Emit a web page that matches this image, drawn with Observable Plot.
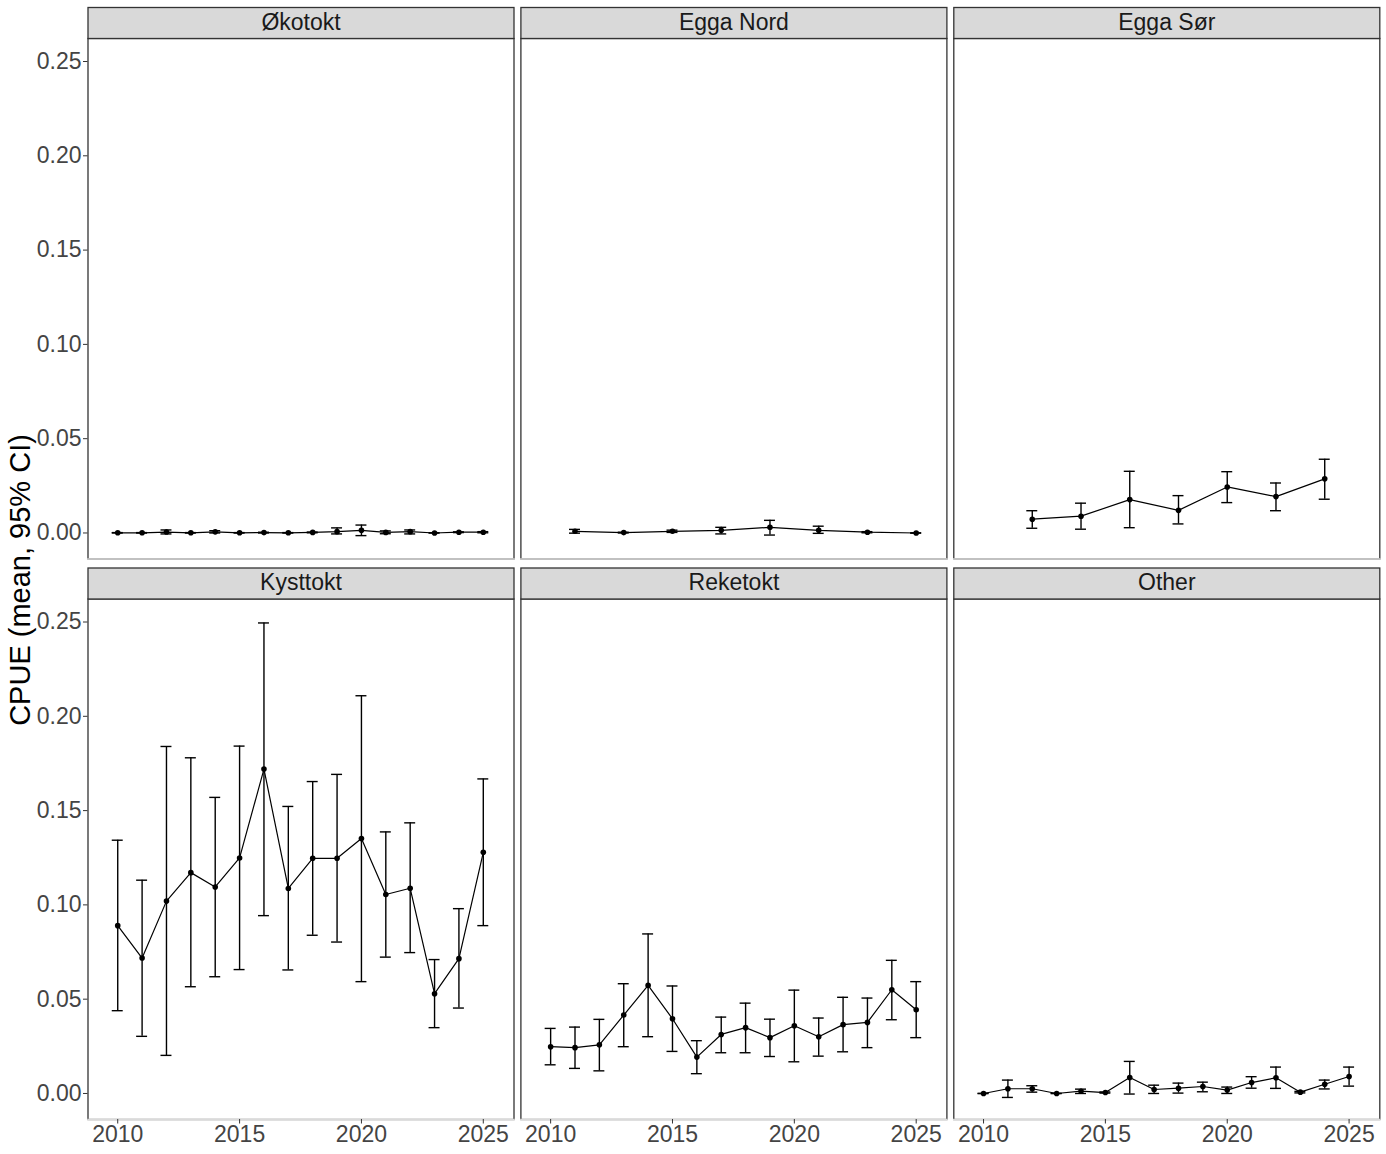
<!DOCTYPE html>
<html>
<head>
<meta charset="utf-8">
<script src="https://cdn.jsdelivr.net/npm/d3@7"></script>
<script src="https://cdn.jsdelivr.net/npm/@observablehq/plot@0.6"></script>
<style>
  html, body { margin: 0; padding: 0; background: #fff; }
  #wrap { position: relative; width: 1386px; height: 1154px; }
  #ylab { position: absolute; left: 20px; top: 580px; transform: translate(-50%, -50%) rotate(-90deg);
          font-family: 'Liberation Sans', Arial, sans-serif; font-size: 29px; color: #000; white-space: nowrap; }
</style>
</head>
<body>
<div id="wrap"><div id="ylab">CPUE (mean, 95% CI)</div></div>
<script>
// ---- Data ----
const panelNames = ["Økotokt", "Egga Nord", "Egga Sør", "Kysttokt", "Reketokt", "Other"];
const xTicks = [2010, 2015, 2020, 2025];
const yTicks = [0, 0.05, 0.10, 0.15, 0.20, 0.25];

const allYears = [2010,2011,2012,2013,2014,2015,2016,2017,2018,2019,2020,2021,2022,2023,2024,2025];

const okoYears = allYears;
const okoMean = [0.0001,0.0001,0.0005,0.0001,0.0006,0.0001,0.0002,0.0001,0.0003,0.0007,0.0014,0.0003,0.0007,0.0000,0.0004,0.0004];
const okoLo   = [0.0000,0.0000,-0.0005,0.0000,0.0000,0.0000,0.0000,0.0000,0.0001,-0.0005,-0.0014,-0.0004,-0.0005,0.0000,0.0002,0.0001];
const okoHi   = [0.0002,0.0002,0.0016,0.0002,0.0012,0.0002,0.0004,0.0002,0.0005,0.0027,0.0042,0.0011,0.0016,0.0001,0.0006,0.0007];

const nordYears = [2011,2013,2015,2017,2019,2021,2023,2025];
const nordMean = [0.0009,0.0002,0.0009,0.0014,0.0030,0.0014,0.0004,0.0000];
const nordLo   = [-0.0001,0.0000,0.0003,-0.0005,-0.0011,-0.0002,0.0001,-0.0001];
const nordHi   = [0.0019,0.0004,0.0015,0.0030,0.0067,0.0036,0.0007,0.0001];

const sorYears = [2012,2014,2016,2018,2020,2022,2024];
const sorMean = [0.0073,0.0089,0.0177,0.0120,0.0244,0.0193,0.0287];
const sorLo   = [0.0025,0.0020,0.0028,0.0048,0.0161,0.0118,0.0179];
const sorHi   = [0.0118,0.0158,0.0327,0.0198,0.0325,0.0265,0.0391];

const kystYears = allYears;
const kystMean = [0.0890,0.0718,0.1020,0.1171,0.1095,0.1249,0.1720,0.1087,0.1247,0.1247,0.1352,0.1055,0.1088,0.0529,0.0715,0.1279];
const kystLo   = [0.0439,0.0303,0.0202,0.0566,0.0619,0.0657,0.0943,0.0655,0.0839,0.0803,0.0593,0.0723,0.0747,0.0349,0.0453,0.0890];
const kystHi   = [0.1343,0.1131,0.1840,0.1780,0.1570,0.1842,0.2495,0.1522,0.1654,0.1692,0.2109,0.1387,0.1435,0.0710,0.0980,0.1668];

const rekeYears = allYears;
const rekeMean = [0.0248,0.0243,0.0258,0.0416,0.0573,0.0396,0.0193,0.0313,0.0349,0.0296,0.0359,0.0301,0.0365,0.0377,0.0550,0.0444];
const rekeLo   = [0.0152,0.0133,0.0120,0.0248,0.0301,0.0223,0.0105,0.0216,0.0216,0.0196,0.0168,0.0198,0.0221,0.0243,0.0391,0.0296];
const rekeHi   = [0.0345,0.0352,0.0393,0.0582,0.0846,0.0570,0.0280,0.0405,0.0479,0.0394,0.0548,0.0400,0.0510,0.0506,0.0706,0.0593];

const otherYears = allYears;
const otherMean = [0.0000,0.0025,0.0025,0.0000,0.0012,0.0005,0.0085,0.0021,0.0028,0.0037,0.0018,0.0058,0.0083,0.0007,0.0049,0.0090];
const otherLo   = [0.0000,-0.0021,0.0007,0.0000,0.0000,0.0002,-0.0003,0.0000,0.0002,0.0009,0.0000,0.0028,0.0027,0.0003,0.0024,0.0039];
const otherHi   = [0.0000,0.0071,0.0041,0.0000,0.0023,0.0008,0.0170,0.0044,0.0055,0.0060,0.0034,0.0089,0.0140,0.0011,0.0071,0.0140];

// ---- Build table ----
const series = [
  [okoYears, okoMean, okoLo, okoHi],
  [nordYears, nordMean, nordLo, nordHi],
  [sorYears, sorMean, sorLo, sorHi],
  [kystYears, kystMean, kystLo, kystHi],
  [rekeYears, rekeMean, rekeLo, rekeHi],
  [otherYears, otherMean, otherLo, otherHi]
];
const data = [];
series.forEach(([yrs, m, lo, hi], i) => {
  yrs.forEach((yr, j) => data.push({panel: panelNames[i], col: i % 3, row: Math.floor(i / 3), year: yr, mean: m[j], lo: lo[j], hi: hi[j]}));
});
const strips = panelNames.map((name, i) => ({name, col: i % 3, row: Math.floor(i / 3)}));

// ---- Layout constants ----
const W = 1386, H = 1154;
const mTop = 38, mBottom = 35, mLeft = 87.5, mRight = 6.7;
const rowGap = 40, colGap = 6.9;
const fyBand = (H - mTop - mBottom - rowGap) / 2;
const fxBand = (W - mLeft - mRight - 2 * colGap) / 3;
const capHalf = 0.225;
const stripH = 31;
const fc = {fx: "col", fy: "row"};

const chart = Plot.plot({
  width: W, height: H,
  marginTop: mTop, marginBottom: mBottom, marginLeft: mLeft, marginRight: mRight,
  style: {background: "#fff", fontFamily: "'Liberation Sans', Arial, sans-serif", fontSize: "23px", overflow: "visible"},
  x: {domain: [2008.78, 2026.26]},
  y: {domain: [-0.0138, 0.2622]},
  fx: {domain: [0, 1, 2], paddingInner: colGap / (fxBand + colGap), paddingOuter: 0, round: false, axis: null},
  fy: {domain: [0, 1], paddingInner: rowGap / (fyBand + rowGap), paddingOuter: 0, round: false, axis: null},
  marks: [
    Plot.frame({stroke: "#333", strokeWidth: 1.3}),
    Plot.frame({anchor: "bottom", stroke: "#dadada", strokeWidth: 1.6}),
    Plot.frame({fill: "#d9d9d9", stroke: "#333", strokeWidth: 1.3, insetTop: -stripH, insetBottom: fyBand}),
    Plot.text(strips, {...fc, text: "name", frameAnchor: "top", lineAnchor: "middle", dy: -16, fontSize: 23, fill: "#1a1a1a"}),
    Plot.axisX({ticks: xTicks, tickFormat: "d", tickSize: 4.5, tickPadding: 1.5, fontSize: 23, stroke: "#333", fill: "#444", label: null}),
    Plot.axisY({ticks: yTicks, tickFormat: ".2f", tickSize: 4.5, tickPadding: 2, fontSize: 23, stroke: "#333", fill: "#444", label: null}),
    Plot.ruleX(data, {...fc, x: "year", y1: "lo", y2: "hi", stroke: "#000", strokeWidth: 1.4}),
    Plot.ruleY(data, {...fc, y: "lo", x1: d => d.year - capHalf, x2: d => d.year + capHalf, stroke: "#000", strokeWidth: 1.4}),
    Plot.ruleY(data, {...fc, y: "hi", x1: d => d.year - capHalf, x2: d => d.year + capHalf, stroke: "#000", strokeWidth: 1.4}),
    Plot.line(data, {...fc, x: "year", y: "mean", stroke: "#000", strokeWidth: 1.2}),
    Plot.dot(data, {...fc, x: "year", y: "mean", r: 2.8, fill: "#000", stroke: "none"})
  ]
});
document.getElementById("wrap").prepend(chart);
</script>
</body>
</html>
